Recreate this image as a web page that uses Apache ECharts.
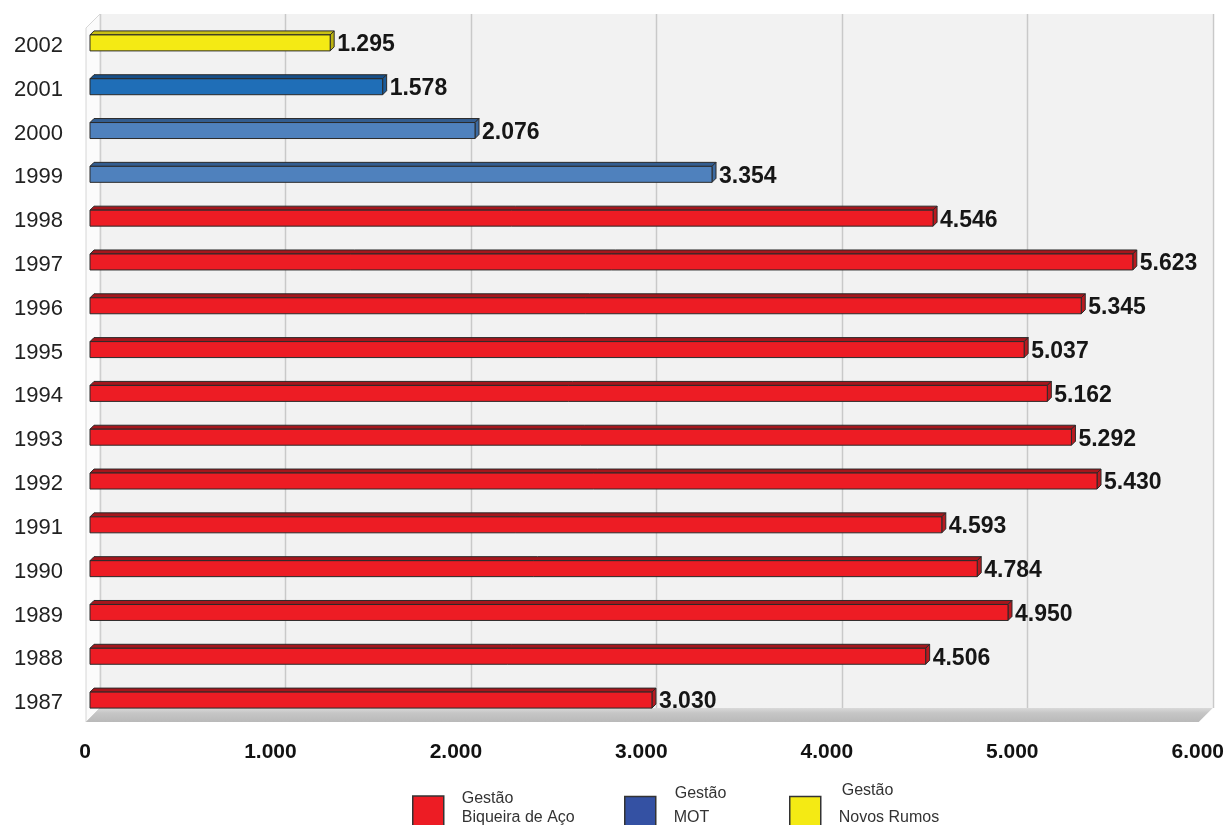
<!DOCTYPE html>
<html>
<head>
<meta charset="utf-8">
<script src="https://cdn.jsdelivr.net/npm/echarts@6/dist/echarts.min.js"></script>
<style>
  html, body { margin: 0; padding: 0; background: #ffffff; }
  #chart { width: 1227px; height: 825px; }
</style>
</head>
<body>
<div id="chart"></div>
<script>
// Years on the category axis (bottom to top)
const years = ['1987', '1988', '1989', '1990', '1991', '1992', '1993', '1994',
               '1995', '1996', '1997', '1998', '1999', '2000', '2001', '2002'];
// Yearly totals
const values = [3030, 4506, 4950, 4784, 4593, 5430, 5292, 5162,
                5037, 5345, 5623, 4546, 3354, 2076, 1578, 1295];
// Management period each year belongs to
const gestao = ['Biqueira de Aço', 'Biqueira de Aço', 'Biqueira de Aço', 'Biqueira de Aço',
                'Biqueira de Aço', 'Biqueira de Aço', 'Biqueira de Aço', 'Biqueira de Aço',
                'Biqueira de Aço', 'Biqueira de Aço', 'Biqueira de Aço', 'Biqueira de Aço',
                'MOT', 'MOT', 'MOT', 'Novos Rumos'];
const gestoes = ['Biqueira de Aço', 'MOT', 'Novos Rumos'];
const legendPrefix = 'Gestão';

// Face colours of the 3D bars
const palette = {
  'Biqueira de Aço': { front: '#ed1c24', top: '#a5161c', side: '#b9191f', legend: '#ed1c24' },
  'MOT':             { front: '#4f81bd', top: '#335d90', side: '#3c6aa1', legend: '#3451a3' },
  'Novos Rumos':     { front: '#f4ea14', top: '#c9c013', side: '#bcb30f', legend: '#f4ea14' }
};
const yearShade = {
  '2001': { front: '#1f6eb7', top: '#174f88', side: '#1a5b9a' }
};

const BAR_DEPTH = 4;     // depth of each bar's top/side face
const BACK_OFFSET = 10;  // back wall sits behind the bar plane
const FRONT_OFFSET = 4;  // front edge of the floor sits before the bar plane
const OUTLINE = '#2a2a2a';
const FONT = '"Liberation Sans", Arial, sans-serif';

function fmt(v) {
  return String(v).replace(/\B(?=(\d{3})+(?!\d))/g, '.');
}

// Back wall, left side wall, floor and back-wall gridlines
function renderFrame(params, api) {
  const cs = params.coordSys;
  const left = cs.x, right = cs.x + cs.width;
  const bottom = cs.y + cs.height;
  const wallTop = cs.y - 7;
  const wallBottom = bottom - FRONT_OFFSET - BACK_OFFSET;
  const children = [];
  children.push({
    type: 'rect',
    shape: { x: left + BACK_OFFSET, y: wallTop, width: right - left, height: wallBottom - wallTop },
    style: { fill: '#f2f2f2' }
  });
  const xMax = 6000, step = 1000;
  for (let v = 0; v <= xMax; v += step) {
    const x = Math.round(api.coord([v, 0])[0] + BACK_OFFSET) + 0.5;
    children.push({
      type: 'line',
      shape: { x1: x, y1: wallTop, x2: x, y2: wallBottom },
      style: { stroke: '#c9c9c9', lineWidth: 1.5 }
    });
  }
  const d = FRONT_OFFSET + BACK_OFFSET;
  children.push({
    type: 'polygon',
    shape: { points: [[left - FRONT_OFFSET, wallTop + d], [left + BACK_OFFSET, wallTop],
                      [left + BACK_OFFSET, wallBottom], [left - FRONT_OFFSET, bottom]] },
    style: { fill: '#fbfbfb', stroke: '#d6d6d6', lineWidth: 1 }
  });
  children.push({
    type: 'polygon',
    shape: { points: [[left - FRONT_OFFSET, bottom], [right - FRONT_OFFSET, bottom],
                      [right + BACK_OFFSET, wallBottom], [left + BACK_OFFSET, wallBottom]] },
    style: {
      fill: new echarts.graphic.LinearGradient(0, 0, 0, 1, [
        { offset: 0, color: '#d9d9d9' },
        { offset: 0.35, color: '#c6c6c6' },
        { offset: 1, color: '#b9b9b9' }
      ])
    }
  });
  return { type: 'group', children: children };
}

function makeBarRenderer(name) {
  return function (params, api) {
    const v = api.value(0);
    const idx = api.value(1);
    const start = api.coord([0, idx]);
    const end = api.coord([v, idx]);
    const h = api.size([0, 1])[1] * 0.365;
    const d = BAR_DEPTH;
    const x0 = start[0], x1 = end[0], yc = end[1];
    const top = yc - h / 2, bot = yc + h / 2;
    const c = yearShade[years[idx]] || palette[name];
    const stroke = { stroke: OUTLINE, lineWidth: 1 };
    return {
      type: 'group',
      children: [
        { type: 'polygon',
          shape: { points: [[x0, top], [x1, top], [x1 + d, top - d], [x0 + d, top - d]] },
          style: Object.assign({ fill: c.top }, stroke) },
        { type: 'polygon',
          shape: { points: [[x1, top], [x1 + d, top - d], [x1 + d, bot - d], [x1, bot]] },
          style: Object.assign({ fill: c.side }, stroke) },
        { type: 'rect',
          shape: { x: x0, y: top, width: x1 - x0, height: h },
          style: Object.assign({ fill: c.front }, stroke) },
        { type: 'text',
          style: { text: fmt(v), x: x1 + d + 3, y: yc + 2, align: 'left', verticalAlign: 'middle',
                   fill: '#161616', font: 'bold 23px ' + FONT } }
      ]
    };
  };
}

const barSeries = gestoes.map(function (g) {
  const data = [];
  years.forEach(function (y, i) {
    if (gestao[i] === g) data.push([values[i], i]);
  });
  return {
    type: 'custom',
    name: g,
    coordinateSystem: 'cartesian2d',
    renderItem: makeBarRenderer(g),
    encode: { x: 0, y: 1 },
    itemStyle: { color: palette[g].legend },
    data: data,
    z: 3
  };
});

// Legend layout: two text lines plus a small spacer line that lifts the text block
const legendLeft = [412, 624, 789];
const legendTop = [791, 786, 783];
const legendLine = [19, 24, 27];
const legendSpacer = [6, 12, 15];
const legendIndent = [0, 1, 3];

const chart = echarts.init(document.getElementById('chart'), null, { renderer: 'canvas' });
chart.setOption({
  backgroundColor: '#ffffff',
  animation: false,
  grid: { left: 90, right: 23, top: 21, bottom: 103, containLabel: false },
  xAxis: {
    type: 'value',
    min: 0, max: 6000, interval: 1000,
    axisLine: { show: false },
    axisTick: { show: false },
    splitLine: { show: false },
    axisLabel: {
      formatter: function (v) { return fmt(v); },
      fontFamily: FONT,
      fontWeight: 'bold', fontSize: 21, color: '#121212',
      margin: 20, padding: [0, 10, 0, 0]
    }
  },
  yAxis: {
    type: 'category',
    data: years,
    axisLine: { show: false },
    axisTick: { show: false },
    splitLine: { show: false },
    axisLabel: {
      fontFamily: FONT,
      fontSize: 22, color: '#222222',
      margin: 27,
      verticalAlign: 'top', lineHeight: 6
    }
  },
  legend: gestoes.map(function (g, i) {
    return {
      data: [{ name: g, itemStyle: { color: palette[g].legend, borderColor: '#333333', borderWidth: 1.5 } }],
      left: legendLeft[i],
      top: legendTop[i],
      padding: 0,
      orient: 'horizontal',
      icon: 'rect',
      itemWidth: 31, itemHeight: 31,
      selectedMode: false,
      formatter: function (n) { return '{g|' + legendPrefix + '}\n{n|' + n + '}\n{s| }'; },
      textStyle: {
        fontFamily: FONT,
        fontSize: 16, color: '#333333',
        padding: [0, 0, 0, 13],
        rich: {
          g: { fontFamily: FONT, fontSize: 16, color: '#333333', lineHeight: legendLine[i],
               padding: [0, 0, 0, legendIndent[i]] },
          n: { fontFamily: FONT, fontSize: 16, color: '#333333', lineHeight: legendLine[i] },
          s: { fontSize: 1, lineHeight: legendSpacer[i] }
        }
      }
    };
  }),
  series: [{
    type: 'custom',
    name: 'frame',
    coordinateSystem: 'cartesian2d',
    renderItem: renderFrame,
    encode: { x: 0, y: 1 },
    data: [[0, 0]],
    silent: true,
    z: 0
  }].concat(barSeries)
});
</script>
</body>
</html>
